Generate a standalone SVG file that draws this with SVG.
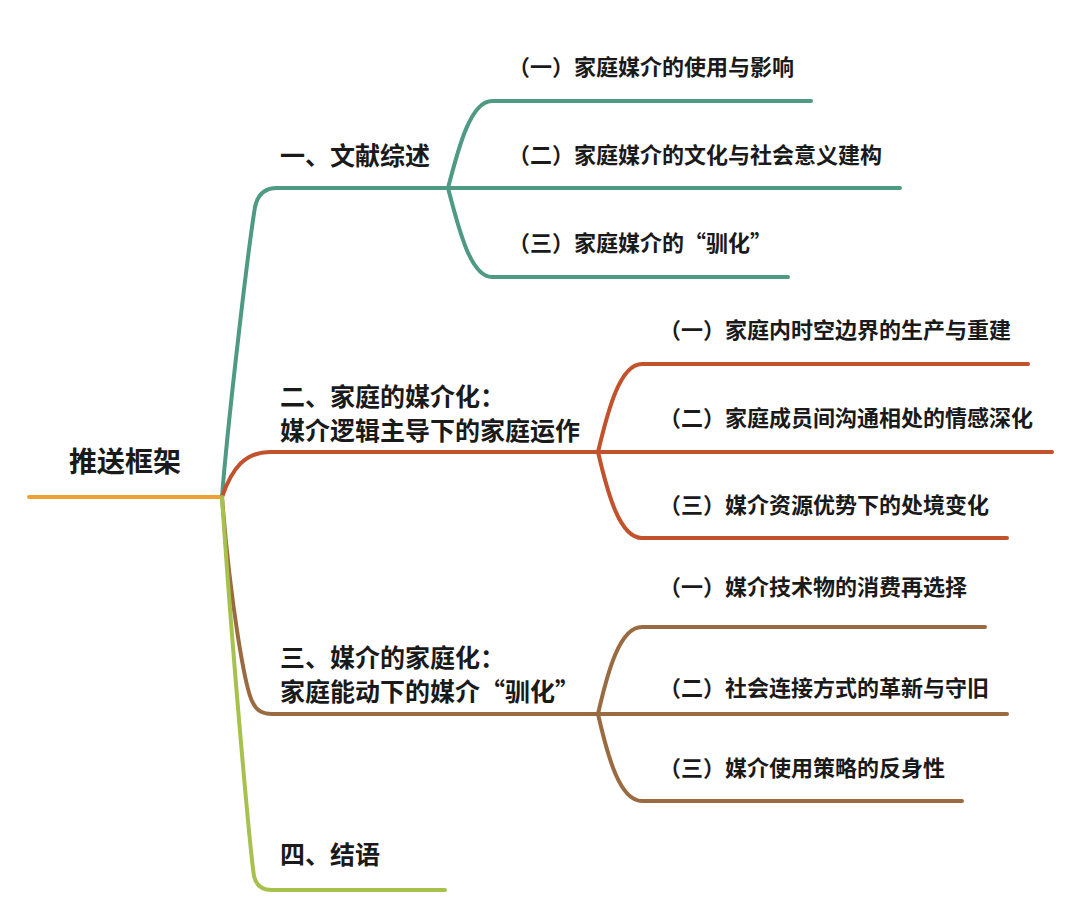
<svg xmlns="http://www.w3.org/2000/svg" width="1080" height="920" viewBox="0 0 1080 920">
<style>
text{font-family:"Noto Sans CJK SC","Noto Sans",sans-serif;font-weight:700;fill:#1a1a1a}
.root{font-size:28px}
.l1{font-size:25px}
.l2{font-size:22px}
path{fill:none;stroke-width:4;stroke-linecap:round;stroke-linejoin:round}
.teal{stroke:#4f9a83}
.red{stroke:#c1522c}
.brown{stroke:#9a6b40}
.green{stroke:#a6c24c}
.orange{stroke:#eea236}
</style>
<rect width="1080" height="920" fill="#ffffff"/>
<g id="connectors">
<path class="orange" d="M29,497 H222"/>
<path class="teal" d="M222,497 C228,420 248,250 255,207 Q259,188 277,188 H448"/>
<path class="red" d="M222,497 C232,468 245,452 270,452 H598"/>
<path class="brown" d="M222,497 C230,600 245,690 253,703 Q258,714 272,714 H598"/>
<path class="green" d="M222,497 C232,650 250,850 254,876 Q257,890 272,890 H445"/>
<path class="teal" d="M448,188 C458,150 470,101 492,101 H811"/>
<path class="teal" d="M448,188 H900"/>
<path class="teal" d="M448,188 C458,226 470,277 492,277 H788"/>
<path class="red" d="M598,452 C608,410 620,364 642,364 H1028"/>
<path class="red" d="M598,452 H1052"/>
<path class="red" d="M598,452 C608,495 620,538 642,538 H1007"/>
<path class="brown" d="M598,714 C608,670 620,627 642,627 H985"/>
<path class="brown" d="M598,714 H1007"/>
<path class="brown" d="M598,714 C608,758 620,801 642,801 H962"/>
</g>
<g id="root"><text class="root" x="69" y="472">推送框架</text></g>
<g id="n1"><text class="l1" x="280" y="164.5">一、文献综述</text></g>
<g id="n2"><text class="l1" x="280" y="406">二、家庭的媒介化：</text><text class="l1" x="280" y="439.5">媒介逻辑主导下的家庭运作</text></g>
<g id="n3"><text class="l1" x="280" y="667">三、媒介的家庭化：</text><text class="l1" x="280" y="700.5">家庭能动下的媒介“驯化”</text></g>
<g id="n4"><text class="l1" x="280" y="864">四、结语</text></g>
<g id="n1-1"><text class="l2" x="508" y="75.4">（一）家庭媒介的使用与影响</text></g>
<g id="n1-2"><text class="l2" x="508" y="163.4">（二）家庭媒介的文化与社会意义建构</text></g>
<g id="n1-3"><text class="l2" x="508" y="251.4">（三）家庭媒介的“驯化”</text></g>
<g id="n2-1"><text class="l2" x="659" y="338.4">（一）家庭内时空边界的生产与重建</text></g>
<g id="n2-2"><text class="l2" x="659" y="426.4">（二）家庭成员间沟通相处的情感深化</text></g>
<g id="n2-3"><text class="l2" x="659" y="513.4">（三）媒介资源优势下的处境变化</text></g>
<g id="n3-1"><text class="l2" x="659" y="595.4">（一）媒介技术物的消费再选择</text></g>
<g id="n3-2"><text class="l2" x="659" y="696.4">（二）社会连接方式的革新与守旧</text></g>
<g id="n3-3"><text class="l2" x="659" y="776.4">（三）媒介使用策略的反身性</text></g>
</svg>
